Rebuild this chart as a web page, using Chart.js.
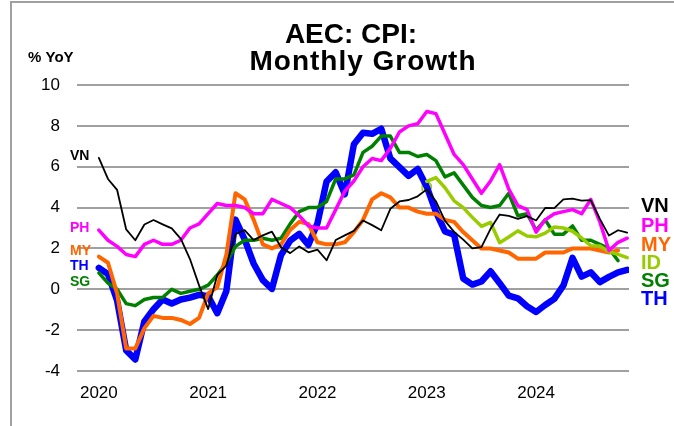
<!DOCTYPE html>
<html><head><meta charset="utf-8">
<script src="https://cdn.jsdelivr.net/npm/chart.js@4"></script>
<style>
html,body{margin:0;padding:0;background:#fff;}
#wrap{position:relative;width:674px;height:426px;overflow:hidden;}
#frame{position:absolute;left:10px;top:1px;width:670px;height:430px;border-left:2px solid #a0a0a0;border-top:2px solid #a0a0a0;box-sizing:border-box;pointer-events:none}
canvas{position:absolute;left:0;top:0}
</style></head>
<body><div id="wrap"><canvas id="c" width="674" height="426"></canvas><div id="frame"></div></div>
<script>
// Month index 0 = Jan 2020
const yearLabels = ['2020','2021','2022','2023','2024'];
const yearTickIdx = [0,12,24,36,48];
const yTicks = [-4,-2,0,2,4,6,8,10];

const VN = [6.43,5.40,4.87,2.93,2.40,3.17,3.39,3.18,2.98,2.47,1.48,0.19,
 -0.97,0.70,1.16,2.70,2.90,2.41,2.64,2.82,2.06,1.77,2.10,1.81,
 1.94,1.42,2.41,2.64,2.86,3.37,3.14,2.89,3.94,4.30,4.37,4.55,
 4.89,4.31,3.35,2.81,2.43,2.00,2.06,2.96,3.66,3.59,3.45,3.58,
 3.37,3.98,3.97,4.40,4.44,4.34,4.36,3.45,2.63,2.89,2.77];
const PH = [2.9,2.4,2.1,1.7,1.6,2.2,2.4,2.2,2.2,2.4,3.0,3.2,
 3.7,4.2,4.1,4.1,4.0,3.7,3.7,4.4,4.2,4.0,3.6,3.1,
 3.0,3.0,3.9,4.8,5.3,6.0,6.4,6.3,6.9,7.7,8.0,8.1,
 8.7,8.6,7.6,6.6,6.1,5.4,4.7,5.3,6.1,4.9,4.1,3.9,
 2.8,3.4,3.7,3.8,3.9,3.7,4.4,3.3,1.9,2.3,2.5];
const MY = [1.6,1.3,-0.2,-2.9,-2.9,-1.9,-1.3,-1.4,-1.4,-1.5,-1.7,-1.4,
 -0.2,0.1,1.7,4.7,4.4,3.4,2.2,2.0,2.2,2.9,3.3,3.2,
 2.3,2.2,2.2,2.3,2.8,3.4,4.4,4.7,4.5,4.0,4.0,3.8,
 3.7,3.7,3.4,3.3,2.8,2.4,2.0,2.0,1.9,1.8,1.5,1.5,
 1.5,1.8,1.8,1.8,2.0,2.0,2.0,1.9,1.8,1.9];
const TH = [1.05,0.74,-0.54,-2.99,-3.44,-1.57,-0.98,-0.50,-0.70,-0.50,-0.41,-0.27,
 -0.34,-1.17,-0.08,3.41,2.44,1.25,0.45,0.02,1.68,2.38,2.71,2.17,
 3.23,5.28,5.73,4.65,7.10,7.66,7.61,7.86,6.41,5.98,5.55,5.89,
 5.02,3.79,2.83,2.67,0.53,0.23,0.38,0.88,0.30,-0.31,-0.44,-0.83,
 -1.11,-0.77,-0.47,0.19,1.54,0.62,0.83,0.35,0.61,0.83,0.95];
const SG = [0.8,0.3,0.0,-0.7,-0.8,-0.5,-0.4,-0.4,0.0,-0.2,-0.1,0.0,
 0.2,0.7,1.3,2.1,2.4,2.4,2.5,2.4,2.5,3.2,3.8,4.0,
 4.0,4.3,5.4,5.4,5.6,6.7,7.0,7.5,7.5,6.7,6.7,6.5,
 6.6,6.3,5.5,5.7,5.1,4.5,4.1,4.0,4.1,4.7,3.6,3.7,
 2.9,3.4,2.7,2.7,3.1,2.4,2.4,2.2,2.0,1.4];
const ID_START = 36; // Jan 2023
const ID = [5.28,5.47,4.97,4.33,4.00,3.52,3.08,3.27,2.28,2.56,2.86,2.61,
 2.57,2.75,3.05,3.00,2.84,2.51,2.13,2.12,1.84,1.71,1.55];

const FONT = "'Liberation Sans', Arial, sans-serif";
const COL = {VN:'#000000', PH:'#ff00ff', MY:'#ff6600', ID:'#99cc00', SG:'#008000', TH:'#0000ff'};

function pts(arr, start){ start = start||0; return arr.map((v,i)=>({x:start+i, y:v})); }

const textPlugin = {
  id:'texts',
  beforeDatasetsDraw(chart){
    const ctx = chart.ctx, xs = chart.scales.x, ys = chart.scales.y;
    ctx.save();
    ctx.font = "bold 12px " + FONT;
    ctx.fillStyle = COL.ID;
    ctx.textAlign = 'center'; ctx.textBaseline = 'middle';
    ctx.fillText('ID', xs.getPixelForValue(ID_START), ys.getPixelForValue(ID[0]) + 6);
    ctx.restore();
  },
  afterDraw(chart){
    const ctx = chart.ctx;
    ctx.save();
    ctx.fillStyle = '#000';
    ctx.textBaseline = 'alphabetic';
    ctx.textAlign = 'center';
    ctx.font = "bold 28px " + FONT;
    ctx.fillText('AEC: CPI:', 351, 43);
    try { ctx.letterSpacing = '1px'; } catch(e) {}
    ctx.fillText('Monthly Growth', 363, 70);
    try { ctx.letterSpacing = '0px'; } catch(e) {}
    ctx.textAlign = 'left';
    ctx.font = "bold 15px " + FONT;
    ctx.fillText('% YoY', 28, 62);
    // left labels
    ctx.font = "bold 14px " + FONT;
    ctx.textBaseline = 'middle';
    const L = [['VN',156],['PH',228],['MY',251],['TH',266],['SG',282]];
    L.forEach(([t,y])=>{ ctx.fillStyle = COL[t]; ctx.fillText(t, 70, y); });
    // right labels
    ctx.font = "bold 20px " + FONT;
    const R = [['VN',206],['PH',226],['MY',245],['ID',263],['SG',281],['TH',299]];
    R.forEach(([t,y])=>{ ctx.fillStyle = COL[t]; ctx.fillText(t, 641, y); });
    ctx.restore();
  }
};

const common = {pointRadius:0, pointHoverRadius:0, tension:0, fill:false, borderJoinStyle:'round', borderCapStyle:'round'};

new Chart(document.getElementById('c'), {
  type:'line',
  data:{ datasets:[
    Object.assign({label:'VN', data:pts(VN), borderColor:COL.VN, borderWidth:1.8, order:0}, common),
    Object.assign({label:'PH', data:pts(PH), borderColor:COL.PH, borderWidth:3.5, order:1}, common),
    Object.assign({label:'ID', data:pts(ID, ID_START), borderColor:COL.ID, borderWidth:3.5, order:2}, common),
    Object.assign({label:'MY', data:pts(MY), borderColor:COL.MY, borderWidth:4, order:3}, common),
    Object.assign({label:'SG', data:pts(SG), borderColor:COL.SG, borderWidth:3.5, order:4}, common),
    Object.assign({label:'TH', data:pts(TH), borderColor:COL.TH, borderWidth:6.5, order:5}, common)
  ]},
  options:{
    responsive:false, devicePixelRatio:1, animation:false,
    layout:{padding:{left:0, right:45, top:85, bottom:0}},
    plugins:{legend:{display:false}, tooltip:{enabled:false}, title:{display:false}},
    scales:{
      x:{ type:'linear', min:-2.4, max:58.2,
        grid:{display:false, drawTicks:false}, border:{display:false},
        afterBuildTicks:(s)=>{ s.ticks = yearTickIdx.map(v=>({value:v})); },
        afterFit:(s)=>{ s.height = 55; },
        ticks:{ autoSkip:false, maxRotation:0, padding:12, color:'#000',
          font:{family:FONT, size:17},
          callback:(v,i)=> yearLabels[yearTickIdx.indexOf(v)] } },
      y:{ min:-4, max:10,
        afterBuildTicks:(s)=>{ s.ticks = yTicks.map(v=>({value:v})); },
        afterFit:(s)=>{ s.width = 77; },
        grid:{color:'#a0a0a0', lineWidth:2, drawTicks:false}, border:{display:false},
        ticks:{ padding:17, color:'#000', font:{family:FONT, size:17} } }
    }
  },
  plugins:[textPlugin]
});
</script>
</body></html>
